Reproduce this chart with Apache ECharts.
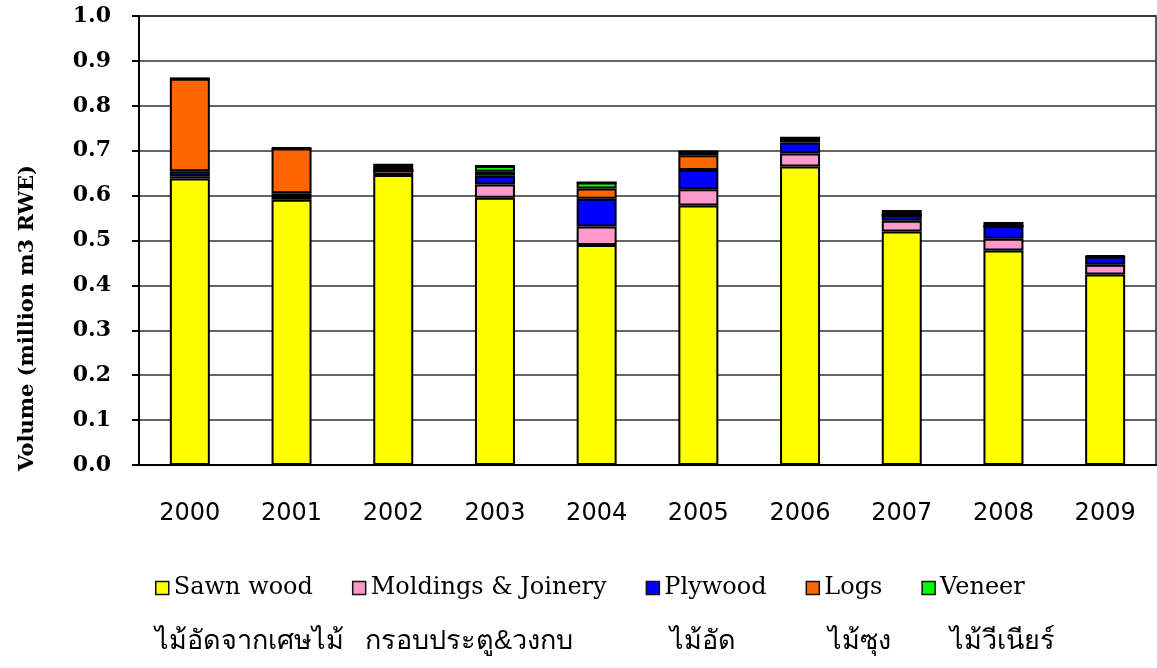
<!DOCTYPE html>
<html>
<head>
<meta charset="utf-8">
<script src="https://cdn.jsdelivr.net/npm/echarts@6/dist/echarts.min.js"></script>
<style>
  html, body { margin: 0; padding: 0; background: #fff; }
  #woodChart { width: 1157px; height: 668px; }
</style>
</head>
<body>
<div id="woodChart"></div>
<script>
var years = ['2000', '2001', '2002', '2003', '2004', '2005', '2006', '2007', '2008', '2009'];
var sawnWood = [0.638, 0.591, 0.646, 0.595, 0.490, 0.578, 0.665, 0.520, 0.478, 0.424];
var moldings = [0.005, 0.008, 0.010, 0.030, 0.041, 0.036, 0.029, 0.024, 0.026, 0.022];
var plywood  = [0.011, 0.006, 0, 0.019, 0.062, 0.043, 0.024, 0.012, 0.028, 0.018];
var logs     = [0.206, 0.100, 0, 0.009, 0.023, 0.033, 0.006, 0, 0, 0];
var veneer   = [0, 0, 0, 0.013, 0.013, 0.008, 0, 0, 0, 0];
var other    = [0.002, 0.002, 0.015, 0, 0, 0, 0.007, 0.012, 0.009, 0.003];
var legendNames = ['Sawn wood', 'Moldings & Joinery', 'Plywood', 'Logs', 'Veneer'];
var thaiNames = ['ไม้อัดจากเศษไม้', 'กรอบประตู&วงกบ', 'ไม้อัด', 'ไม้ซุง', 'ไม้วีเนียร์'];
var thaiX = [155, 365, 670, 828, 950];

var woodChart = echarts.init(document.getElementById('woodChart'));

function barSeries(name, data, color) {
    return {
        name: name,
        type: 'bar',
        stack: 'total',
        barWidth: 40,
        data: data,
        itemStyle: { color: color, borderColor: '#000', borderWidth: 2 }
    };
}

var extraText = [];
for (var i = 0; i < thaiNames.length; i++) {
    extraText.push({
        type: 'text',
        left: thaiX[i],
        top: 628,
        style: { text: thaiNames[i], font: '27px sans-serif', fill: '#000' }
    });
}
extraText.push({
    type: 'text',
    x: 28,
    y: 318,
    rotation: Math.PI / 2,
    style: {
        text: 'Volume (million m3 RWE)',
        font: 'bold 21px "DejaVu Serif"',
        fill: '#000',
        align: 'center',
        verticalAlign: 'middle'
    }
});

var woodOption = {
    animation: false,
    grid: {
        left: 139,
        right: 1,
        top: 16,
        bottom: 203,
        show: true,
        borderColor: '#222',
        borderWidth: 1.5
    },
    legend: {
        data: legendNames,
        left: 150,
        top: 571,
        icon: 'rect',
        itemWidth: 13,
        itemHeight: 13,
        itemGap: 39,
        itemStyle: { borderColor: '#111', borderWidth: 1.5 },
        textStyle: { fontFamily: 'DejaVu Serif', fontSize: 24, color: '#000' }
    },
    xAxis: {
        type: 'category',
        data: years,
        axisLine: { lineStyle: { color: '#000', width: 2 } },
        axisTick: { length: 8, lineStyle: { color: '#000', width: 2 } },
        axisLabel: { fontFamily: 'DejaVu Sans', fontSize: 24, color: '#000', margin: 37 }
    },
    yAxis: {
        type: 'value',
        min: 0,
        max: 1,
        interval: 0.1,
        axisLine: { show: true, lineStyle: { color: '#000', width: 2 } },
        axisTick: { show: true, length: 7, lineStyle: { color: '#000', width: 2 } },
        splitLine: { lineStyle: { color: '#333', width: 1.5 } },
        axisLabel: {
            fontFamily: 'DejaVu Serif',
            fontWeight: 'bold',
            fontSize: 22,
            color: '#000',
            margin: 28,
            formatter: function (v) { return v.toFixed(1); }
        }
    },
    graphic: extraText,
    series: [
        barSeries('Sawn wood', sawnWood, '#ffff00'),
        barSeries('Moldings & Joinery', moldings, '#ff99cc'),
        barSeries('Plywood', plywood, '#0000ff'),
        barSeries('Logs', logs, '#ff6600'),
        barSeries('Veneer', veneer, '#00ff00'),
        barSeries('Other', other, '#000000')
    ]
};
woodChart.setOption(woodOption, true);
</script>
</body>
</html>
